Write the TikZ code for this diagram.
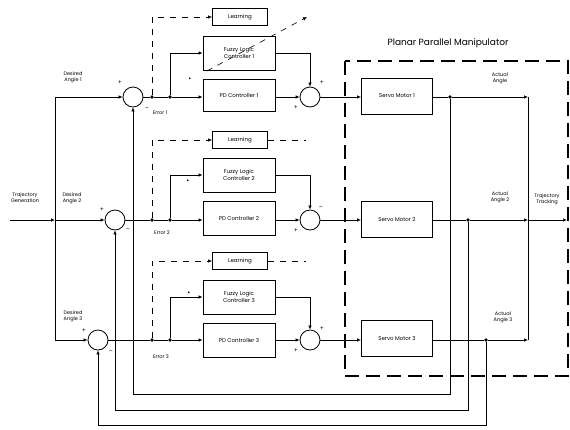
\documentclass[tikz,border=0pt]{standalone}
\usepackage{amssymb}
\usepackage{fontspec}
\setmainfont{Poppins}
\usetikzlibrary{arrows.meta,calc,positioning}
\tikzset{
  blk/.style={draw,line width=0.9pt,minimum width=72pt,minimum height=34pt,align=center,font=\fontsize{5.5}{6.5}\selectfont},
  lrnbox/.style={draw,line width=0.8pt,minimum width=55pt,minimum height=17pt,font=\fontsize{5.5}{6.5}\selectfont},
  sumj/.style={circle,draw,line width=0.8pt,minimum size=20pt,inner sep=0pt},
  jdot/.style={circle,fill,inner sep=1.4pt},
  wire/.style={line width=0.7pt},
  sig/.style={wire,-{Latex[length=4pt,width=3.5pt]}},
  lrn/.style={line width=0.6pt,dash pattern=on 6pt off 6pt},
  mframe/.style={line width=1.6pt,dash pattern=on 14pt off 7pt},
  lbl/.style={font=\fontsize{5}{6}\selectfont,align=center,inner sep=0pt},
  sgn/.style={font=\fontsize{6}{6}\selectfont,inner sep=0pt},
  tick/.style={font=\fontsize{3.5}{4}\selectfont,inner sep=0pt}
}
\begin{document}
\begin{tikzpicture}[x=1pt,y=-1pt]
\useasboundingbox (0,0) rectangle (570,429);

% manipulator frame
\draw[mframe] (345,61) rectangle (568,376);
\node[font=\fontsize{9}{10}\selectfont] (ppm) at (448,43) {Planar Parallel Manipulator};

% input side
\node[lbl] (tgen) at (25,198) {Trajectory\\Generation};
\coordinate (tin) at (10,220);
\coordinate (busin) at (55,220);
\coordinate (bus1) at (55,97);
\coordinate (bus3) at (55,340);
\node[lbl] (da1) at (73,77) {Desired\\Angle 1};
\node[lbl] (da2) at (72,198) {Desired\\Angle 2};
\node[lbl] (da3) at (73,316) {Desired\\Angle 3};

% summing junctions
\node[sumj] (s1) at (133,97) {};
\node[sumj] (s2) at (115,220) {};
\node[sumj] (s3) at (98,340) {};
\node[sgn] at (120,83) {+};
\node[sgn] at (147,109) {--};
\node[sgn] at (102,210) {+};
\node[sgn] at (128,230) {--};
\node[sgn] at (84,331) {+};
\node[sgn] at (111,352) {--};

% error pick-offs
\node[jdot] (e1) at (152,97) {};
\node[jdot] (b1) at (170,97) {};
\node[jdot] (e2) at (152,220) {};
\node[jdot] (b2) at (170,220) {};
\node[jdot] (e3) at (152,340) {};
\node[jdot] (b3) at (170,340) {};
\node[lbl] (er1) at (160,113) {Error 1};
\node[lbl] (er2) at (162,233) {Error 2};
\node[lbl] (er3) at (161,357) {Error 3};

% controllers
\node[lrnbox] (L1) at (240,17) {Learning};
\node[blk] (f1) at (239,53) {Fuzzy Logic\\Controller 1};
\node[blk,minimum height=32pt] (p1) at (239,95) {PD Controller 1};
\node[lrnbox] (L2) at (240,140) {Learning};
\node[blk] (f2) at (239,175) {Fuzzy Logic\\Controller 2};
\node[blk] (p2) at (239,218) {PD Controller 2};
\node[lrnbox] (L3) at (240,261) {Learning};
\node[blk] (f3) at (239,297) {Fuzzy Logic\\Controller 3};
\node[blk] (p3) at (239,340) {PD Controller 3};
\node[tick] at (190,79) {$\blacktriangle$};
\node[tick] at (188,181) {$\blacktriangle$};
\node[tick] at (189,293) {$\blacktriangle$};

% adders after controllers
\node[sumj] (a1) at (310,97) {};
\node[sumj] (a2) at (310,220) {};
\node[sumj] (a3) at (310,340) {};
\node[sgn] at (322,83) {+};
\node[sgn] at (296,108) {+};
\node[sgn] at (321,208) {--};
\node[sgn] at (296,231) {+};
\node[sgn] at (322,329) {+};
\node[sgn] at (296,351) {+};

% servo motors
\node[blk,minimum width=71pt,minimum height=36pt] (m1) at (397,96) {Servo Motor 1};
\node[blk,minimum width=71pt,minimum height=36pt] (m2) at (397,219) {Servo Motor 2};
\node[blk,minimum width=71pt,minimum height=36pt] (m3) at (397,338) {Servo Motor 3};

% outputs
\node[jdot] (o1) at (450,97) {};
\node[jdot] (o2) at (468,220) {};
\node[jdot] (o3) at (486,340) {};
\coordinate (t1) at (528,97);
\coordinate (t2) at (528,220);
\coordinate (t3) at (528,340);
\coordinate (out) at (567,220);
\node[lbl] (aa1) at (500,78) {Actual\\Angle};
\node[lbl] (aa2) at (500,197) {Actual\\Angle 2};
\node[lbl] (aa3) at (503,317) {Actual\\Angle 3};
\node[lbl] (trk) at (547,199) {Trajectory\\Tracking};
\coordinate (fb1) at (450,394);
\coordinate (fb2) at (468,410);
\coordinate (fb3) at (486,425);

% learning paths
\coordinate (ad1) at (207,71);
\coordinate (ad2) at (307,17);
\coordinate (lo2) at (306,140);
\coordinate (lo3) at (306,261);

% wiring
\draw[sig] (tin) -- (busin);
\draw[wire] (bus1) -- (bus3);
\draw[sig] (bus1) -- (s1.west);
\draw[sig] (busin) -- (s2.west);
\draw[sig] (bus3) -- (s3.west);

\draw[wire] (s1.east) -- (e1) -- (b1);
\draw[wire] (s2.east) -- (e2) -- (b2);
\draw[wire] (s3.east) -- (e3) -- (b3);
\draw[sig] (b1) -- (p1.west |- b1);
\draw[sig] (b2) -- (p2.west |- b2);
\draw[sig] (b3) -- (p3.west);
\draw[sig] (b1) |- (f1.west);
\draw[sig] (b2) |- (f2.west);
\draw[sig] (b3) |- (f3.west);

\draw[lrn,-{Latex[length=4pt,width=3.5pt]}] (e1) |- (L1.west);
\draw[lrn,-{Latex[length=4pt,width=3.5pt]}] (e2) |- (L2.west);
\draw[lrn,-{Latex[length=4pt,width=3.5pt]}] (e3) |- (L3.west);
\draw[lrn,-{Latex[length=4pt,width=3.5pt]}] (ad1) -- (ad2);
\draw[lrn] (L2.east) -- (lo2);
\draw[lrn] (L3.east) -- (lo3);

\draw[sig] (f1.east) -| (a1.north);
\draw[sig] (f2.east) -| (a2.north);
\draw[sig] (f3.east) -| (a3.north);
\draw[sig] (p1.east |- a1) -- (a1.west);
\draw[sig] (p2.east |- a2) -- (a2.west);
\draw[sig] (p3.east) -- (a3.west);

\draw[sig] (a1.east) -- (m1.west |- a1);
\draw[sig] (a2.east) -- (m2.west |- a2);
\draw[sig] (a3.east) -- (m3.west |- a3);
\draw[wire] (m1.east |- o1) -- (o1);
\draw[wire] (m2.east |- o2) -- (o2);
\draw[wire] (m3.east |- o3) -- (o3);
\draw[sig] (o1) -- (t1);
\draw[sig] (o2) -- (t2);
\draw[sig] (o3) -- (t3);
\draw[wire] (t1) -- (t3);
\draw[sig] (t2) -- (out);

% feedback
\draw[sig] (o1) -- (fb1) -| (s1.south);
\draw[sig] (o2) -- (fb2) -| (s2.south);
\draw[sig] (o3) -- (fb3) -| (s3.south);
\end{tikzpicture}
\end{document}
